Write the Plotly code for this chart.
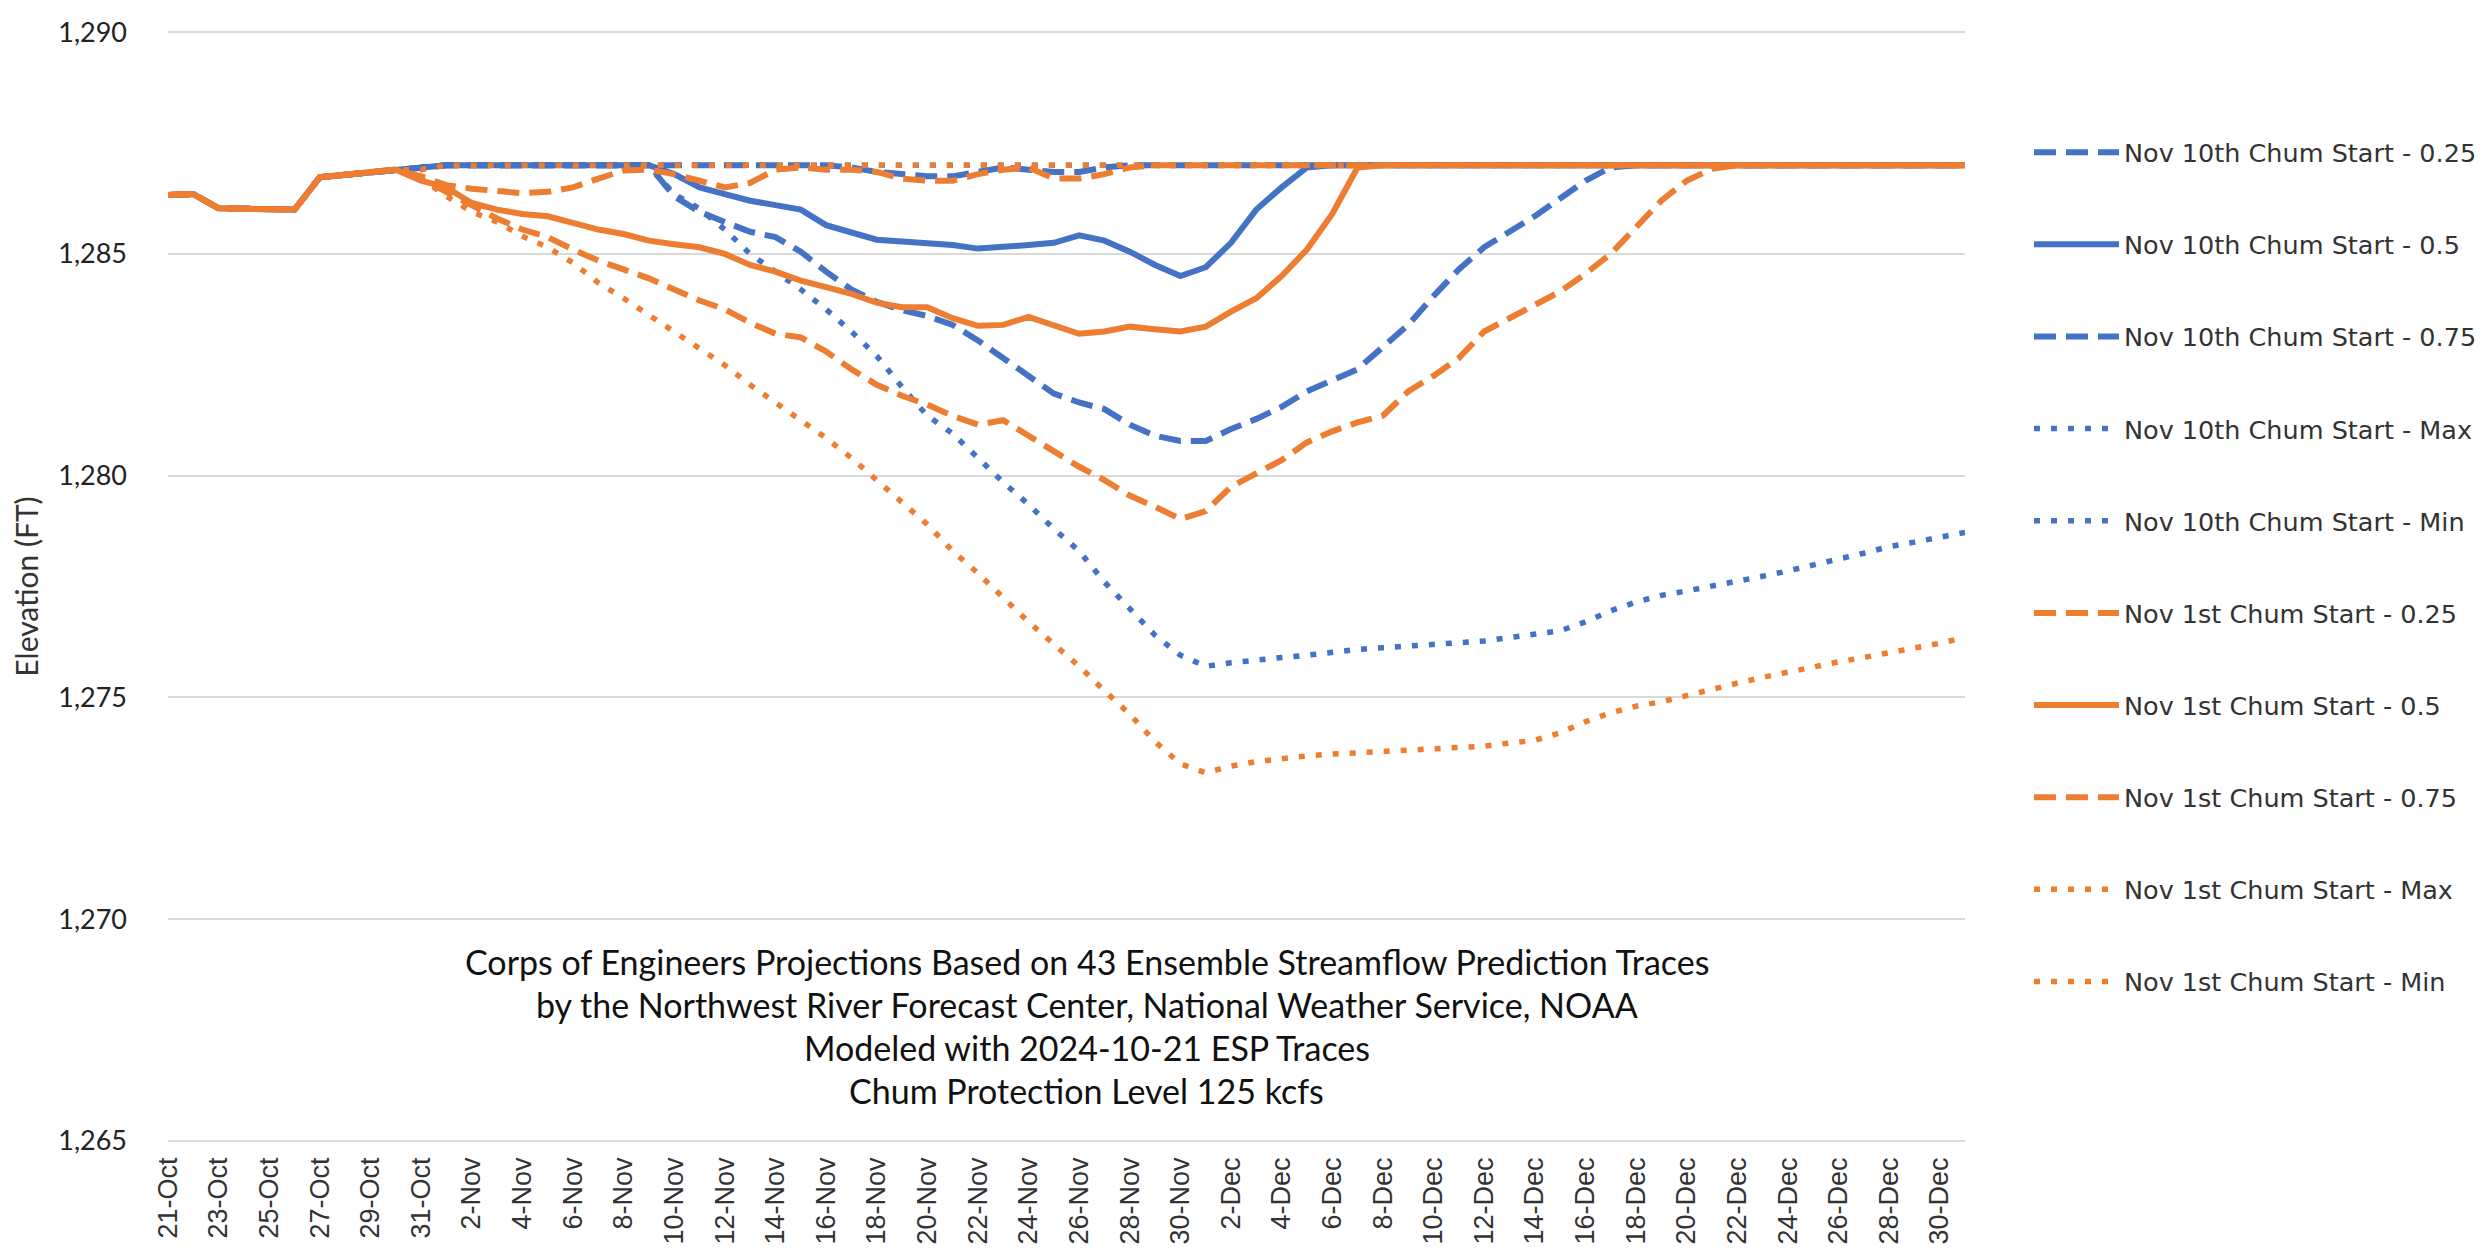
import pandas as pd
import plotly.graph_objects as go

# ---- categories (daily, 21-Oct .. 31-Dec) ----
dates = pd.date_range("2024-10-21", "2024-12-31", freq="D")
day_labels = [f"{d.day}-{d.strftime('%b')}" for d in dates]
tick_labels = day_labels[::2]

# common pre-operation values (21-Oct .. 30-Oct)
common = [1286.33, 1286.35, 1286.03, 1286.02, 1285.98, 1286.00, 1286.73, 1286.78, 1286.84, 1286.90]

# ---- Nov 10th chum start ----
nov10_q25 = common + [1286.95] + [1287.0] * 16 + [
    1286.95, 1286.85, 1286.80, 1286.75, 1286.75, 1286.85, 1286.95, 1286.90, 1286.85, 1286.85, 1286.95] + [1287.0] * 34
nov10_q50 = common + [1286.95] + [1287.0] * 9 + [
    1286.80, 1286.50, 1286.35, 1286.20, 1286.10, 1286.00, 1285.65, 1285.50, 1285.32, 1285.28,
    1285.25, 1285.20, 1285.12, 1285.15, 1285.20, 1285.25, 1285.42, 1285.30, 1285.05, 1284.75,
    1284.50, 1284.70, 1285.25, 1286.00, 1286.50, 1286.95] + [1287.0] * 26
nov10_q75 = common + [1286.95] + [1287.0] * 9 + [
    1286.30, 1285.95, 1285.72, 1285.50, 1285.38, 1285.05, 1284.60, 1284.20, 1283.92, 1283.73,
    1283.60, 1283.40, 1283.05, 1282.65, 1282.25, 1281.85, 1281.65, 1281.50, 1281.15, 1280.90,
    1280.78, 1280.78, 1281.05, 1281.28, 1281.55, 1281.90, 1282.15, 1282.40, 1282.90, 1283.40,
    1284.05, 1284.65, 1285.15, 1285.50, 1285.85, 1286.25, 1286.65, 1286.95] + [1287.0] * 14
nov10_max = common + [1286.95] + [1287.0] * 61
nov10_min = common + [1286.95] + [1287.0] * 9 + [
    1286.35, 1286.02, 1285.55, 1285.00, 1284.60, 1284.20, 1283.75, 1283.25, 1282.70, 1282.00,
    1281.35, 1280.95, 1280.40, 1279.85, 1279.35, 1278.80, 1278.30, 1277.60, 1277.00, 1276.40,
    1275.95, 1275.70, 1275.78, 1275.85, 1275.90, 1275.95, 1276.02, 1276.08, 1276.12, 1276.15,
    1276.20, 1276.23, 1276.27, 1276.35, 1276.42, 1276.50, 1276.70, 1276.95, 1277.15, 1277.30,
    1277.40, 1277.50, 1277.62, 1277.73, 1277.85, 1278.00, 1278.12, 1278.25, 1278.40, 1278.50,
    1278.62, 1278.72]

# ---- Nov 1st chum start ----
nov1_q25 = common + [
    1286.75, 1286.55, 1286.47, 1286.42, 1286.37, 1286.40, 1286.50, 1286.70, 1286.88, 1286.90,
    1286.80, 1286.65, 1286.50, 1286.60, 1286.90, 1286.95, 1286.90, 1286.90, 1286.85, 1286.70,
    1286.65, 1286.65, 1286.80, 1286.90, 1286.95, 1286.70, 1286.70, 1286.80, 1286.95] + [1287.0] * 33
nov1_q50 = common + [
    1286.65, 1286.50, 1286.15, 1286.00, 1285.90, 1285.85, 1285.70, 1285.55, 1285.45, 1285.30,
    1285.22, 1285.15, 1285.00, 1284.75, 1284.60, 1284.40, 1284.25, 1284.10, 1283.90, 1283.80,
    1283.80, 1283.55, 1283.38, 1283.40, 1283.58, 1283.40, 1283.20, 1283.25, 1283.36, 1283.30,
    1283.25, 1283.36, 1283.70, 1284.00, 1284.50, 1285.10, 1285.90, 1286.95] + [1287.0] * 24
nov1_q75 = common + [
    1286.70, 1286.40, 1286.10, 1285.80, 1285.55, 1285.38, 1285.10, 1284.85, 1284.65, 1284.45,
    1284.20, 1283.95, 1283.75, 1283.45, 1283.20, 1283.12, 1282.80, 1282.40, 1282.05, 1281.80,
    1281.60, 1281.35, 1281.15, 1281.25, 1280.90, 1280.55, 1280.20, 1279.90, 1279.55, 1279.30,
    1279.02, 1279.20, 1279.75, 1280.05, 1280.35, 1280.75, 1281.00, 1281.20, 1281.35, 1281.90,
    1282.25, 1282.65, 1283.25, 1283.55, 1283.85, 1284.15, 1284.55, 1285.00, 1285.60, 1286.20,
    1286.65, 1286.92] + [1287.0] * 10
nov1_max = common + [1286.90] + [1287.0] * 61
nov1_min = common + [
    1286.70, 1286.30, 1285.95, 1285.72, 1285.40, 1285.15, 1284.80, 1284.35, 1284.00, 1283.62,
    1283.25, 1282.85, 1282.49, 1282.05, 1281.65, 1281.25, 1280.85, 1280.40, 1279.90, 1279.40,
    1278.90, 1278.30, 1277.80, 1277.25, 1276.70, 1276.20, 1275.70, 1275.15, 1274.62, 1274.00,
    1273.50, 1273.30, 1273.45, 1273.55, 1273.62, 1273.68, 1273.72, 1273.75, 1273.78, 1273.80,
    1273.83, 1273.87, 1273.90, 1273.97, 1274.03, 1274.20, 1274.45, 1274.65, 1274.80, 1274.90,
    1275.05, 1275.20, 1275.32, 1275.45, 1275.57, 1275.70, 1275.80, 1275.90, 1276.00, 1276.10,
    1276.22, 1276.35]

series_names = [
    "Nov 10th Chum Start - 0.25", "Nov 10th Chum Start - 0.5", "Nov 10th Chum Start - 0.75",
    "Nov 10th Chum Start - Max", "Nov 10th Chum Start - Min",
    "Nov 1st Chum Start - 0.25", "Nov 1st Chum Start - 0.5", "Nov 1st Chum Start - 0.75",
    "Nov 1st Chum Start - Max", "Nov 1st Chum Start - Min",
]
series_values = [nov10_q25, nov10_q50, nov10_q75, nov10_max, nov10_min,
                 nov1_q25, nov1_q50, nov1_q75, nov1_max, nov1_min]

annotation_lines = [
    "Corps of Engineers Projections Based on 43 Ensemble Streamflow Prediction Traces",
    "by the Northwest River Forecast Center, National Weather Service, NOAA",
    "Modeled with 2024-10-21 ESP Traces",
    "Chum Protection Level 125 kcfs",
]

BLUE = "#4472C4"
ORANGE = "#ED7D31"
DASH = "22px,10px"
DOT = "6px,11px"
styles = [
    (BLUE, DASH, 6), (BLUE, "solid", 6), (BLUE, DASH, 6), (BLUE, DOT, 5.5), (BLUE, DOT, 5.5),
    (ORANGE, DASH, 6), (ORANGE, "solid", 6), (ORANGE, DASH, 6), (ORANGE, DOT, 5.5), (ORANGE, DOT, 5.5),
]

fig = go.Figure()
for name, vals, (col, dash, w) in zip(series_names, series_values, styles):
    assert len(vals) == len(day_labels), (name, len(vals))
    fig.add_trace(go.Scatter(
        x=day_labels, y=vals, mode="lines", name=name, legendgroup=name,
        line=dict(color=col, dash=dash, width=w),
    ))

W, H = 2489, 1249
ML, MR, MT, MB = 160, 532, 22, 114
PLOT_H = H - MT - MB

line_px = [953, 996, 1039, 1082]
annotations = [
    dict(text=t, xref="paper", yref="paper", x=0.5114, y=(H - MB - yp) / PLOT_H,
         xanchor="center", yanchor="middle", showarrow=False,
         font=dict(family="Lato, sans-serif", size=34, color="#111111"))
    for t, yp in zip(annotation_lines, line_px)
]

fig.update_layout(
    width=W, height=H,
    margin=dict(l=ML, r=MR, t=MT, b=MB),
    paper_bgcolor="white", plot_bgcolor="white",
    font=dict(family="Liberation Sans, Arial, sans-serif", color="#333333"),
    showlegend=True,
    legend=dict(
        x=1.0356, xanchor="left", y=0.911, yanchor="top",
        font=dict(family="DejaVu Sans, sans-serif", size=25.5, color="#333333"),
        tracegroupgap=56, itemwidth=85, bgcolor="rgba(0,0,0,0)", borderwidth=0,
    ),
    annotations=annotations,
)

fig.update_xaxes(
    type="category", tickmode="array", tickvals=tick_labels, ticktext=tick_labels,
    tickangle=-90, showgrid=False, showline=False, zeroline=False, ticks="",
    tickfont=dict(family="Liberation Sans, Arial, sans-serif", size=27, color="#333333"),
    ticklabelstandoff=8, automargin=False,
)
fig.update_yaxes(
    range=[1264.95, 1290.05], tickmode="array", tickvals=[1265, 1270, 1275, 1280, 1285, 1290],
    tickformat=",",
    showgrid=True, gridcolor="#D9D9D9", gridwidth=2, zeroline=False, showline=False, ticks="",
    tickfont=dict(family="Lato, sans-serif", size=27, color="#222222"),
    ticklabelstandoff=40, automargin=False,
    title=dict(text="Elevation (FT)", font=dict(family="Lato, sans-serif", size=30, color="#333333"),
               standoff=12),
)

fig.write_html("out.html")
